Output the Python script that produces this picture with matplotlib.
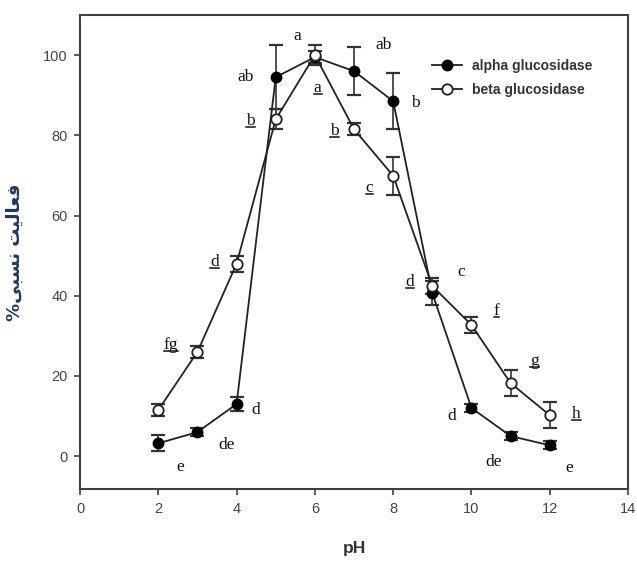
import matplotlib
matplotlib.use('Agg')
from matplotlib import pyplot as plt
from matplotlib.lines import Line2D

# data
ph = [2, 3, 4, 5, 6, 7, 8, 9, 10, 11, 12]
alpha = [3.2, 6.0, 13.0, 94.5, 99.5, 96.0, 88.5, 40.6, 12.0, 5.0, 2.7]
alpha_err = [2.0, 1.0, 1.8, 8.0, 1.5, 6.0, 7.0, 3.0, 1.0, 1.0, 1.0]
beta = [11.5, 26.0, 48.0, 84.0, 100.0, 81.5, 69.9, 42.4, 32.7, 18.2, 10.2]
beta_err = [1.5, 1.5, 2.0, 2.5, 2.5, 1.5, 4.7, 2.0, 2.0, 3.2, 3.3]

alpha_letters = ['e', 'de', 'd', 'ab', 'a', 'ab', 'b', 'c', 'd', 'de', 'e']
beta_letters = ['', 'fg', 'd', 'b', 'a', 'b', 'c', 'd', 'f', 'g', 'h']

# letter offsets from their point, in points
alpha_off = [(16, -17), (21, -9), (14, -4), (-22, 0), (-13, 15), (21, 19),
             (16, -1), (21, 15), (-14, -6), (-12, -19), (14, -16)]
beta_off = [(0, 0), (-19, 5), (-16, 1), (-18, -1), (2, -24), (-14, -1),
            (-17, -9), (-16, 3), (18, 10), (17, 16), (19, 1)]

# Persian y label, shaped by hand (presentation forms, visual order)
ylab = '%' + '\ufbfd\ufe92\ufeb4\ufee7' + ' ' + '\ufe96\ufbff\ufedf\ufe8e\ufecc\ufed3'

plt.rcParams['font.family'] = ['Liberation Sans', 'DejaVu Sans']

fig = plt.figure(figsize=(6.37, 5.66), dpi=100)
ax = fig.add_axes([0.1256, 0.136, 0.8604, 0.8375])

ink = '#222222'
ax.errorbar(ph, alpha, yerr=alpha_err, fmt='none', ecolor='#333333',
            elinewidth=1.2, capsize=5, capthick=1.6, zorder=2)
ax.errorbar(ph, beta, yerr=beta_err, fmt='none', ecolor='#333333',
            elinewidth=1.2, capsize=5, capthick=1.6, zorder=2)
ax.plot(ph, alpha, '-o', color=ink, lw=1.3, ms=7.5, mfc='black', mec='black',
        zorder=3)
ax.plot(ph, beta, '-o', color=ink, lw=1.3, ms=7.5, mfc='white', mec=ink,
        mew=1.3, zorder=4)

for x, y, t, o in zip(ph, alpha, alpha_letters, alpha_off):
    ax.annotate(t, (x, y), xytext=o, textcoords='offset points',
                ha='center', va='center', fontsize=12.5,
                family='Liberation Serif', color='#111111')
beta_txt = []
for x, y, t, o in zip(ph, beta, beta_letters, beta_off):
    if not t:
        continue
    beta_txt.append(ax.annotate(t, (x, y), xytext=o,
                                textcoords='offset points', ha='center',
                                va='center', fontsize=12.5,
                                family='Liberation Serif', color='#111111'))

ax.set_xlim(0, 14)
ax.set_ylim(-8.2, 110)
ax.set_xticks(range(0, 15, 2))
ax.set_yticks(range(0, 101, 20))
ax.tick_params(direction='out', length=4, width=1.2, color='#404040',
               labelsize=10.5, labelcolor='#444444', pad=5)
for s in ax.spines.values():
    s.set_color('#404040')
    s.set_linewidth(1.5)

ax.set_xlabel('pH', fontsize=12.5, fontweight='bold', color='#333333',
              labelpad=18)
ax.set_ylabel(ylab, fontsize=13, fontweight='bold', color='#1f3864',
              family=['DejaVu Sans'], labelpad=14)

handles = [Line2D([], [], color=ink, lw=1.3, marker='o', ms=7.5,
                  mfc='black', mec='black'),
           Line2D([], [], color=ink, lw=1.3, marker='o', ms=7.5,
                  mfc='white', mec=ink, mew=1.3)]
leg = ax.legend(handles, ['alpha glucosidase', 'beta glucosidase'],
                loc='upper left', bbox_to_anchor=(0.678, 0.896),
                bbox_transform=fig.transFigure, frameon=False,
                borderpad=0, borderaxespad=0, handlelength=2.2,
                handletextpad=0.7, labelspacing=0.75,
                prop={'family': 'Liberation Sans', 'weight': 'bold',
                      'size': 10})
for t in leg.get_texts():
    t.set_color('#333333')

# underline the beta letters
fig.canvas.draw()
r = fig.canvas.get_renderer()
for t in beta_txt:
    bb = t.get_window_extent(r)
    yl = bb.y0 + 2
    fig.add_artist(Line2D([bb.x0, bb.x1], [yl, yl], transform=None,
                          color='#111111', lw=1.1))

fig.savefig('out.png', dpi=100)
plt.close(fig)
